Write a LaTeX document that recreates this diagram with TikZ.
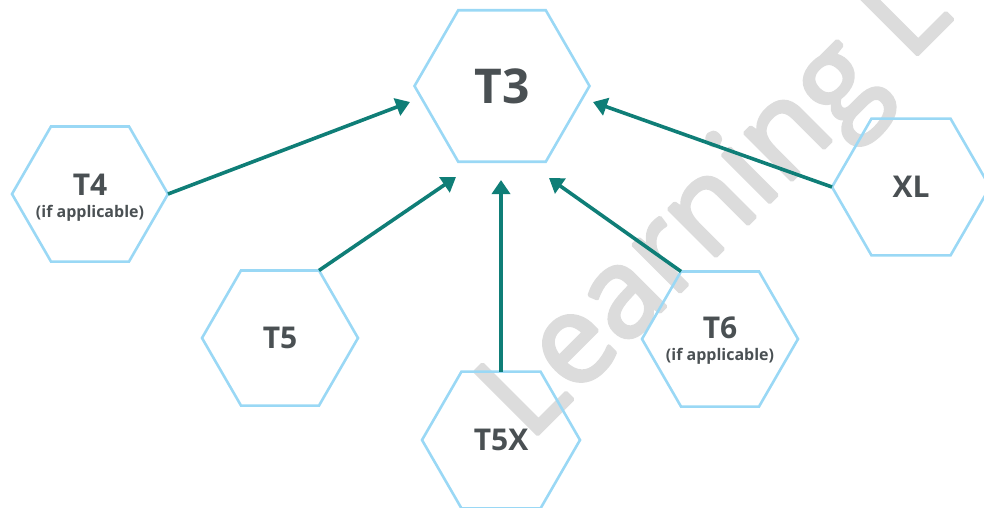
\documentclass[tikz,border=0pt]{standalone}
\usepackage{fontspec}
\setmainfont{Open Sans}
\usetikzlibrary{shapes.geometric,arrows.meta}
\definecolor{hexblue}{HTML}{9AD8F5}
\definecolor{teal1}{HTML}{0F7E77}
\definecolor{txtgray}{HTML}{4A5053}
\definecolor{wmgray}{HTML}{DCDCDC}
\tikzset{
  hexbox/.style={regular polygon, regular polygon sides=6, draw=hexblue, line width=2.6pt,
    inner sep=0pt, outer sep=0pt, text=txtgray, font=\bfseries\fontsize{30}{30}\selectfont},
  conn/.style={draw=teal1, line width=3.6pt, -{Triangle[length=14pt,width=18pt]}},
  wmark/.style={text=wmgray, font=\fontsize{124}{124}\selectfont, rotate=45, anchor=base west, inner sep=0pt}
}
\newcommand{\twoline}[2]{\makebox[0pt]{\raisebox{-#2}[0pt][0pt]{\begin{tabular}[b]{@{}c@{}}#1\\[-8pt]{\fontsize{16}{20}\selectfont (if applicable)}\end{tabular}}}}
\newcommand{\thicktext}[1]{\special{pdf:literal direct 2 Tr 3.8 w 1 j}#1\special{pdf:literal direct 0 Tr}}
\begin{document}
\begin{tikzpicture}[x=1pt,y=-1pt]
\useasboundingbox (0,0) rectangle (984,507);
\node[wmark] (wm) at (529,443) {\thicktext{Learning L}};
\node[hexbox, minimum size=175pt, font=\bfseries\fontsize{48}{48}\selectfont] (T3) at (502,86) {T3};
\node[hexbox, minimum size=156pt] (T4) at (90,194) {\twoline{T4}{23pt}};
\node[hexbox, minimum size=156pt] (T5) at (280,338) {T5};
\node[hexbox, minimum size=158pt] (T5X) at (501,440) {T5X};
\node[hexbox, minimum size=156pt] (T6) at (720,339) {\twoline{T6}{21.5pt}};
\node[hexbox, minimum size=158pt] (XL) at (911,187) {XL};
\coordinate (a4) at (410,102);
\coordinate (a5) at (456,177);
\coordinate (a5x) at (501,180);
\coordinate (a6) at (549,178);
\coordinate (axl) at (593,102);
\draw[conn] (T4.east) -- (a4);
\draw[conn] (T5.60) -- (a5);
\draw[conn] (T5X.north) -- (a5x);
\draw[conn] (T6.120) -- (a6);
\draw[conn] (XL.west) -- (axl);
\end{tikzpicture}
\end{document}
